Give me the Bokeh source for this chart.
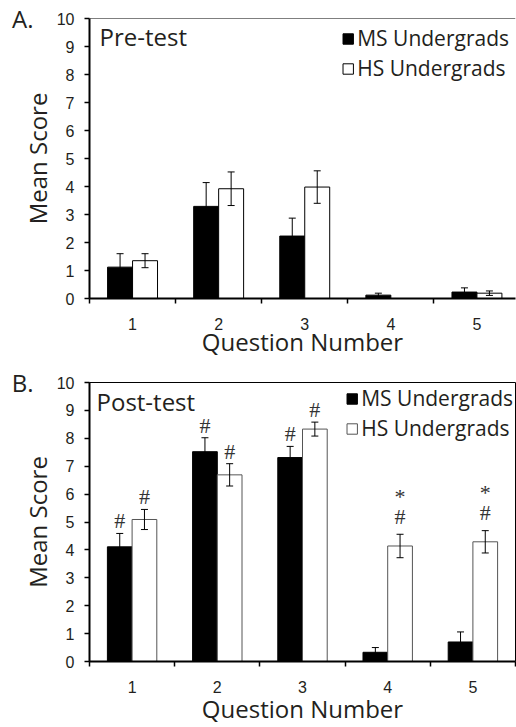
from bokeh.plotting import figure
from bokeh.models import (ColumnDataSource, Whisker, TeeHead, FixedTicker, Range1d,
                          Legend, LegendItem, Label, Span, LinearAxis)
from bokeh.layouts import column
from bokeh.embed import file_html
from bokeh.resources import INLINE
from bokeh.transform import dodge
from bokeh.core.properties import value

# ---------------- data ----------------
questions = [1, 2, 3, 4, 5]
tick_labels = ["1", "2", "3", "4", "5"]

pre_ms = [1.12, 3.29, 2.23, 0.12, 0.23]
pre_ms_err = [0.48, 0.85, 0.64, 0.07, 0.15]
pre_hs = [1.35, 3.92, 3.98, 0.0, 0.19]
pre_hs_err = [0.25, 0.60, 0.58, 0.0, 0.08]

post_ms = [4.11, 7.52, 7.31, 0.33, 0.70]
post_ms_err = [0.48, 0.50, 0.40, 0.17, 0.36]
post_hs = [5.09, 6.69, 8.33, 4.14, 4.29]
post_hs_err = [0.36, 0.40, 0.25, 0.42, 0.40]

post_ms_hash = ["#", "#", "#", "", ""]
post_hs_hash = ["#", "#", "#", "#", "#"]
post_hs_star = ["", "", "", "*", "*"]

SANS = "Open Sans"
NUM = "Liberation Sans"
SERIF = "Liberation Serif"
OFF = 0.145
BW = 0.29
LEFT = 89


def panel(letter, test_name, ms, ms_err, hs, hs_err, height, top, bottom,
          xend, right, boxed, hs_line, xlab_standoff, legend_margin,
          title_dx, title_dy, letter_top, ms_hash=None, hs_hash=None, hs_star=None):
    p = figure(width=516, height=height, x_range=Range1d(0.5, xend),
               y_range=Range1d(0, 10), output_backend="svg", toolbar_location=None,
               min_border_left=LEFT, min_border_right=right, min_border_top=top,
               min_border_bottom=bottom)
    p.grid.visible = False
    p.background_fill_color = "white"
    p.border_fill_color = "white"
    if boxed:
        p.outline_line_color = "black"
        p.outline_line_width = 1
    else:
        p.outline_line_color = None
        p.add_layout(Span(location=10, dimension="width", line_color="black",
                          line_width=1))

    src = ColumnDataSource(dict(q=questions, ms=ms, hs=hs))

    r_ms = p.vbar(x=dodge("q", -OFF, range=p.x_range), top="ms", width=BW, source=src,
                  fill_color="black", line_color="black", line_width=1)
    r_hs = p.vbar(x=dodge("q", OFF, range=p.x_range), top="hs", width=BW, source=src,
                  fill_color="white", line_color=hs_line, line_width=1)

    # error bars (only where an error exists)
    ms_idx = [i for i, e in enumerate(ms_err) if e > 0]
    hs_idx = [i for i, e in enumerate(hs_err) if e > 0]
    wsrc_ms = ColumnDataSource(dict(q=[questions[i] for i in ms_idx],
                                    up=[ms[i] + ms_err[i] for i in ms_idx],
                                    lo=[ms[i] - ms_err[i] for i in ms_idx]))
    wsrc_hs = ColumnDataSource(dict(q=[questions[i] for i in hs_idx],
                                    up=[hs[i] + hs_err[i] for i in hs_idx],
                                    lo=[hs[i] - hs_err[i] for i in hs_idx]))
    for ws, off in ((wsrc_ms, -OFF), (wsrc_hs, OFF)):
        w = Whisker(source=ws, base=dodge("q", off, range=p.x_range), upper="up",
                    lower="lo", line_color="black", line_width=1, level="overlay",
                    upper_head=TeeHead(size=7, line_width=1, line_color="black"),
                    lower_head=TeeHead(size=7, line_width=1, line_color="black"))
        p.add_layout(w)

    # significance marks (# = vs pre-test, * = vs MS group)
    if ms_hash is not None:
        hs_gap = [0.65 if s else 0.45 for s in hs_star]
        msrc = ColumnDataSource(dict(
            x=questions,
            y_ms=[v + e + 0.45 for v, e in zip(ms, ms_err)],
            y_hs=[v + e + g for v, e, g in zip(hs, hs_err, hs_gap)],
            y_st=[v + e + g + 0.72 for v, e, g in zip(hs, hs_err, hs_gap)],
            t_ms=ms_hash, t_hs=hs_hash, t_st=hs_star))
        common = dict(source=msrc, text_font=value(SERIF), text_font_size="22px",
                      text_align="center", text_baseline="alphabetic",
                      text_color="#333333")
        p.text(x=dodge("x", -OFF, range=p.x_range), y="y_ms", text="t_ms", **common)
        p.text(x=dodge("x", OFF, range=p.x_range), y="y_hs", text="t_hs", **common)
        p.text(x=dodge("x", OFF, range=p.x_range), y="y_st", text="t_st", **common)

    # legend
    legend = Legend(items=[LegendItem(label="MS Undergrads", renderers=[r_ms]),
                           LegendItem(label="HS Undergrads", renderers=[r_hs])],
                    location="top_right", label_text_font=SANS,
                    label_text_font_size="21px", label_text_color="#231f20",
                    glyph_width=13, glyph_height=13, label_standoff=3, spacing=2,
                    padding=0, margin=legend_margin, border_line_color=None,
                    background_fill_alpha=0)
    p.add_layout(legend)

    # panel title inside frame
    p.add_layout(Label(x=0.5, y=10, x_offset=title_dx, y_offset=title_dy, text=test_name,
                       text_font=SANS, text_font_size="24px", text_baseline="top",
                       text_color="#231f20"))

    # y axis
    ya = p.yaxis[0]
    ya.ticker = FixedTicker(ticks=list(range(0, 11)))
    ya.axis_line_width = 2
    ya.major_tick_out = 5
    ya.major_tick_in = 0
    ya.major_tick_line_width = 1.5
    ya.minor_tick_line_color = None
    ya.major_label_text_font = NUM
    ya.major_label_text_font_size = "16px"
    ya.major_label_text_color = "#231f20"
    ya.major_label_standoff = 10
    ya.axis_label = "Mean Score"
    ya.axis_label_text_font = SANS
    ya.axis_label_text_font_size = "24px"
    ya.axis_label_text_font_style = "normal"
    ya.axis_label_text_color = "#231f20"
    ya.axis_label_standoff = 0

    # panel letter: label of an empty outer axis, aligned with its upper bound
    extra = LinearAxis(ticker=FixedTicker(ticks=[]), axis_line_color=None,
                       major_tick_line_color=None, minor_tick_line_color=None,
                       major_label_text_font_size="0px", major_tick_out=0,
                       major_tick_in=0, minor_tick_out=0, major_label_standoff=0,
                       bounds=(0, letter_top),
                       axis_label=letter, axis_label_orientation="horizontal",
                       axis_label_text_font=SANS, axis_label_text_font_size="24px",
                       axis_label_text_font_style="normal",
                       axis_label_text_color="#231f20", axis_label_standoff=-16)
    try:
        extra.axis_label_align = "end"
    except AttributeError:
        pass
    p.add_layout(extra, "left")

    # x axis: labels at centres, ticks at category boundaries (minor ticks)
    xa = p.xaxis[0]
    xa.ticker = FixedTicker(ticks=questions,
                            minor_ticks=[q - 0.5 for q in questions] + [questions[-1] + 0.5])
    xa.major_label_overrides = {q: t for q, t in zip(questions, tick_labels)}
    xa.axis_line_width = 2
    xa.major_tick_line_color = None
    xa.major_tick_out = 5
    xa.major_tick_in = 0
    xa.minor_tick_out = 5
    xa.minor_tick_in = 0
    xa.minor_tick_line_width = 1.5
    xa.minor_tick_line_color = "black"
    xa.major_label_text_font = NUM
    xa.major_label_text_font_size = "16px"
    xa.major_label_text_color = "#231f20"
    xa.major_label_standoff = 14
    xa.axis_label = "Question Number"
    xa.axis_label_text_font = SANS
    xa.axis_label_text_font_size = "24px"
    xa.axis_label_text_font_style = "normal"
    xa.axis_label_text_color = "#231f20"
    xa.axis_label_standoff = xlab_standoff
    return p


pA = panel("A.", "Pre-test", pre_ms, pre_ms_err, pre_hs, pre_hs_err,
           height=362, top=18, bottom=64, xend=0.5 + (516 - LEFT) / 86.3, right=0,
           boxed=False, hs_line="black", xlab_standoff=-8, legend_margin=6,
           title_dx=10, title_dy=-1, letter_top=9.9)
pB = panel("B.", "Post-test", post_ms, post_ms_err, post_hs, post_hs_err,
           height=365, top=20, bottom=65, xend=5.5, right=1,
           boxed=True, hs_line="#555555", xlab_standoff=-4, legend_margin=2,
           title_dx=7, title_dy=-2, letter_top=9.7,
           ms_hash=post_ms_hash, hs_hash=post_hs_hash, hs_star=post_hs_star)

layout = column(pA, pB, spacing=0)
open("out.html", "w").write(file_html(layout, INLINE))
